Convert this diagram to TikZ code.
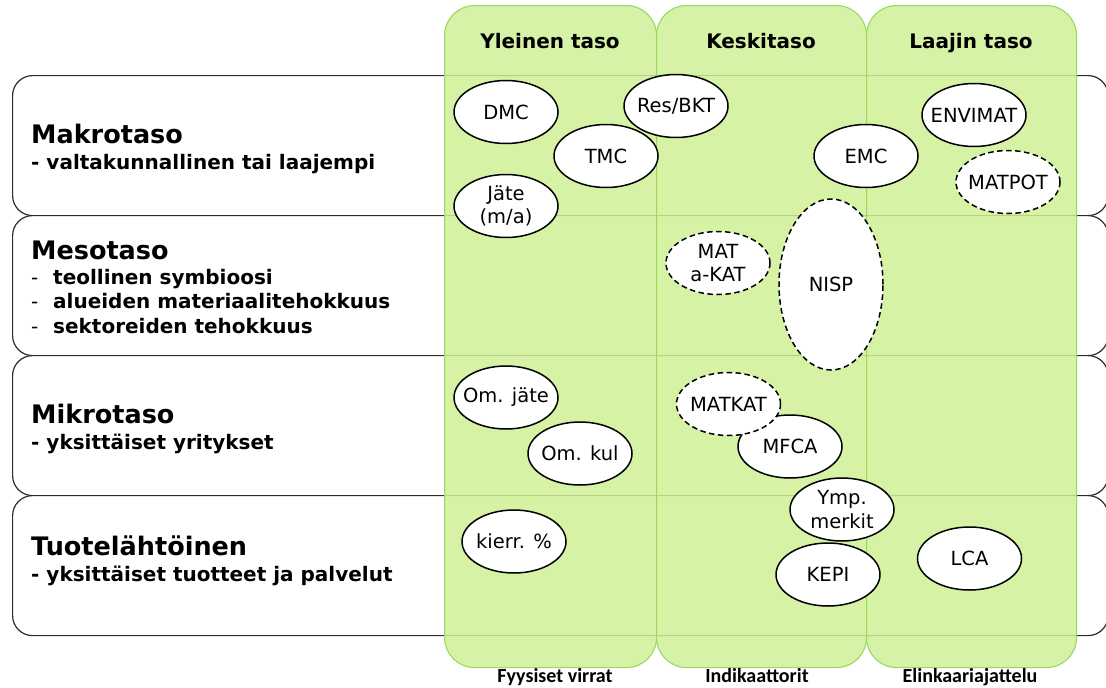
\documentclass[tikz,border=0pt]{standalone}
\usepackage{fontspec}
\setmainfont{DejaVu Sans}
\newfontfamily\captionfont{Carlito}
\usetikzlibrary{shapes.geometric}

\definecolor{colfill}{RGB}{207,240,150}
\definecolor{colline}{RGB}{158,214,98}
\definecolor{rowline}{RGB}{45,45,45}

\tikzset{
  rowbox/.style={draw=rowline, line width=1.2pt, fill=white, rounded corners=20pt,
    rectangle, anchor=north west, inner sep=0pt, minimum width=1095.5pt, minimum height=140pt},
  colbox/.style={draw=colline, line width=1.1pt, fill=colfill, fill opacity=0.85,
    rounded corners=30pt, rectangle, anchor=north west, inner sep=0pt,
    minimum height=662pt},
  rowtitle/.style={anchor=base west, inner sep=0pt, font=\fontsize{25.5}{30}\selectfont\bfseries},
  rowsub/.style={anchor=base west, inner sep=0pt, font=\fontsize{20}{24}\selectfont\bfseries},
  colhead/.style={anchor=base, inner sep=0pt, font=\fontsize{20}{24}\selectfont\bfseries},
  colfoot/.style={anchor=base, inner sep=0pt, font=\captionfont\fontsize{20}{24}\selectfont\bfseries},
  tagtext/.style={font=\fontsize{19.5}{23.5}\selectfont, align=center, inner sep=0pt},
  tag/.style={ellipse, draw=black, line width=1.5pt, fill=white,
    minimum width=104pt, minimum height=63pt, inner sep=0pt,
    label={[tagtext]center:#1}},
  open/.style={dash pattern=on 5.5pt off 3.5pt},
}
\newcommand{\dashitem}[1]{\makebox[22pt][l]{\mdseries -}#1}

\begin{document}
\begin{tikzpicture}[x=1pt, y=-1pt]
\useasboundingbox (0,0) rectangle (1106,688);

% level rows (right ends run out past the edge)
\node[rowbox] (row-makro) at (12,75) {};
\node[rowbox] (row-meso)  at (12,215) {};
\node[rowbox] (row-mikro) at (12,355) {};
\node[rowbox] (row-tuote) at (12,495) {};

% row texts
\node[rowtitle] (t-makro) at (31,143) {Makrotaso};
\node[rowsub]   (s-makro) at (31,169) {- valtakunnallinen tai laajempi};

\node[rowtitle] (t-meso) at (31,259) {Mesotaso};
\node[rowsub]   (s-meso1) at (31,284) {\dashitem{teollinen symbioosi}};
\node[rowsub]   (s-meso2) at (31,308.5) {\dashitem{alueiden materiaalitehokkuus}};
\node[rowsub]   (s-meso3) at (31,333) {\dashitem{sektoreiden tehokkuus}};

\node[rowtitle] (t-mikro) at (31,423) {Mikrotaso};
\node[rowsub]   (s-mikro) at (31,449) {- yksittäiset yritykset};

\node[rowtitle] (t-tuote) at (31,555) {Tuotelähtöinen};
\node[rowsub]   (s-tuote) at (31,581) {- yksittäiset tuotteet ja palvelut};

% scope columns
\node[colbox, minimum width=212pt] (col-yl) at (444,5) {};
\node[colbox, minimum width=210pt] (col-ke) at (656,5) {};
\node[colbox, minimum width=210pt] (col-la) at (866,5) {};

\node[colhead] (h-yl) at (550,48) {Yleinen taso};
\node[colhead] (h-ke) at (761,48) {Keskitaso};
\node[colhead] (h-la) at (971,48) {Laajin taso};

\node[colfoot] (f-yl) at (555,682) {Fyysiset virrat};
\node[colfoot] (f-ke) at (757,682) {Indikaattorit};
\node[colfoot] (f-la) at (970,682) {Elinkaariajattelu};

% methods
\node[tag={DMC}]        (dmc)     at (506,112) {};
\node[tag={TMC}]        (tmc)     at (606,156) {};
\node[tag={Res/BKT}]    (resbkt)  at (676,106) {};
\node[tag={Jäte\\(m/a)}] (jate)   at (506,206) {};
\node[tag={EMC}]        (emc)     at (866,156) {};
\node[tag={ENVIMAT}]    (envimat) at (974,115) {};
\node[tag={MATPOT}, open] (matpot) at (1008,182) {};
\node[tag={MAT\\a-KAT}, open] (matakat) at (718,263) {};
\node[tag={NISP}, open, minimum height=171pt] (nisp) at (831,284.5) {};
\node[tag={Om. jäte}]   (omjate)  at (506,397.5) {};
\node[tag={Om. kul}]    (omkul)   at (580,453.5) {};
\node[tag={MFCA}]       (mfca)    at (790,446.5) {};
\node[tag={MATKAT}, open] (matkat) at (728.5,404) {};
\node[tag={Ymp.\\merkit}] (ymp)   at (842,509.5) {};
\node[tag={KEPI}]       (kepi)    at (828,574.5) {};
\node[tag={kierr. \%}]  (kierr)   at (514,541.5) {};
\node[tag={LCA}]        (lca)     at (969.5,558.5) {};
\end{tikzpicture}
\end{document}
